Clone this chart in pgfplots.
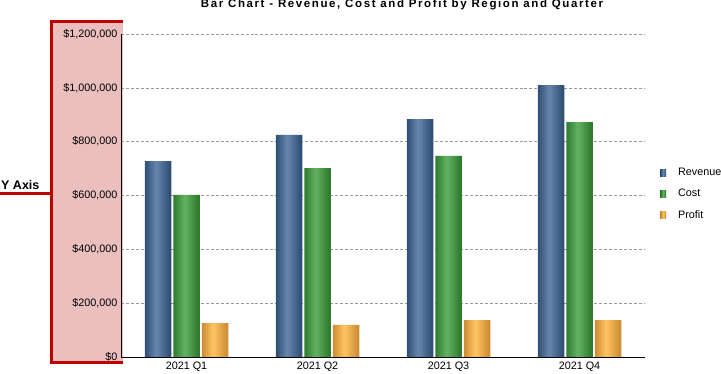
\documentclass[border=0pt]{standalone}
\usepackage{pgfplots}
\usepackage{pgfplotstable}
\pgfplotsset{compat=1.18}
\usepackage{fontspec}
\setmainfont{Liberation Sans}
\definecolor{revD}{HTML}{27456A}
\definecolor{revL}{HTML}{6689AD}
\definecolor{costD}{HTML}{267326}
\definecolor{costL}{HTML}{64B264}
\definecolor{proD}{HTML}{C4842C}
\definecolor{proL}{HTML}{FFC563}
\definecolor{pinkbg}{HTML}{ECBFBF}
\definecolor{redline}{HTML}{C00000}
% gradient strip colours (13 strips across each bar)
\pgfplotsinvokeforeach{-12,-10,...,12}{%
  \pgfmathsetmacro\myt{(#1+13)/26}%
  \pgfmathsetmacro\mypct{10+90*(\myt<0.45 ? \myt/0.45 : (1-\myt)/0.55)}%
  \colorlet{rev#1}{revL!\mypct!revD}%
  \colorlet{cost#1}{costL!\mypct!costD}%
  \colorlet{pro#1}{proL!\mypct!proD}%
}
\pgfplotstableread{
x rev cost prof
0 728000 602000 126000
1 825000 702000 119000
2 884000 747000 137000
3 1010000 873000 137000
}\datatable
\pgfplotsset{
  strip/.style={ybar, bar width=2.5bp, draw=none, forget plot},
}
\begin{document}
\begin{tikzpicture}
\useasboundingbox (0bp,0bp) rectangle (721bp,374bp);
\fill[pinkbg] (50bp,10bp) rectangle (123bp,354bp);
\draw[redline, line width=3bp] (123bp,11bp) -- (51.5bp,11bp) -- (51.5bp,352bp) -- (123bp,352bp);
\draw[redline, line width=3bp] (0bp,180.5bp) -- (51.5bp,180.5bp);
\node[anchor=base west, font=\fontsize{12.5bp}{14bp}\selectfont\bfseries, inner sep=0pt] at (1bp,184bp) {Y Axis};
\node[anchor=base, font=\fontsize{11.5bp}{13bp}\selectfont\bfseries\addfontfeatures{LetterSpace=14}, inner sep=0pt] at (402bp,366bp) {Bar Chart - Revenue, Cost and Profit by Region and Quarter};
\begin{axis}[
  at={(121bp,17bp)}, anchor=south west,
  scale only axis, width=524bp, height=323bp,
  xmin=-0.5, xmax=3.5, ymin=0, ymax=1200000,
  axis x line*=bottom, axis y line*=left,
  axis line style={black, line width=1bp},
  xtick={0,1,2,3},
  xticklabels={2021 Q1,2021 Q2,2021 Q3,2021 Q4},
  ytick={0,200000,400000,600000,800000,1000000,1200000},
  ymajorgrids,
  grid style={densely dashed, gray!80, line width=0.6bp},
  major tick length=0pt,
  scaled y ticks=false,
  /pgf/number format/assume math mode=true,
  yticklabel={\$\pgfmathprintnumber[fixed,precision=0,1000 sep={,}]{\tick}},
  tick label style={font=\fontsize{10.8bp}{12bp}\selectfont, black},
  xticklabel style={yshift=-1.5bp},
  legend style={at={(1.0286,0.505)}, anchor=west, draw=none, fill=none,
    font=\fontsize{10.8bp}{12bp}\selectfont, row sep=8bp, inner sep=0pt},
  legend cell align=left,
]
\pgfplotsinvokeforeach{-12,-10,...,12}{%
  \pgfmathsetmacro\shR{#1-28.5}%
  \pgfmathsetmacro\shP{#1+28.5}%
  \edef\doplots{%
    \noexpand\addplot[strip, bar shift=\shR bp, fill=rev#1] table[x=x,y=rev]{\noexpand\datatable};
    \noexpand\addplot[strip, bar shift=#1bp, fill=cost#1] table[x=x,y=cost]{\noexpand\datatable};
    \noexpand\addplot[strip, bar shift=\shP bp, fill=pro#1] table[x=x,y=prof]{\noexpand\datatable};
  }%
  \doplots
}
\addlegendimage{legend image code/.code={\path[draw=none, left color=revD, right color=revD, middle color=revL] (0bp,-3.5bp) rectangle (6bp,3.5bp); \path[draw=none] (0bp,0bp) -- (16bp,0bp);}}
\addlegendentry{Revenue}
\addlegendimage{legend image code/.code={\path[draw=none, left color=costD, right color=costD, middle color=costL] (0bp,-3.5bp) rectangle (6bp,3.5bp); \path[draw=none] (0bp,0bp) -- (16bp,0bp);}}
\addlegendentry{Cost}
\addlegendimage{legend image code/.code={\path[draw=none, left color=proD, right color=proD, middle color=proL] (0bp,-3.5bp) rectangle (6bp,3.5bp); \path[draw=none] (0bp,0bp) -- (16bp,0bp);}}
\addlegendentry{Profit}
\end{axis}
\end{tikzpicture}
\end{document}
